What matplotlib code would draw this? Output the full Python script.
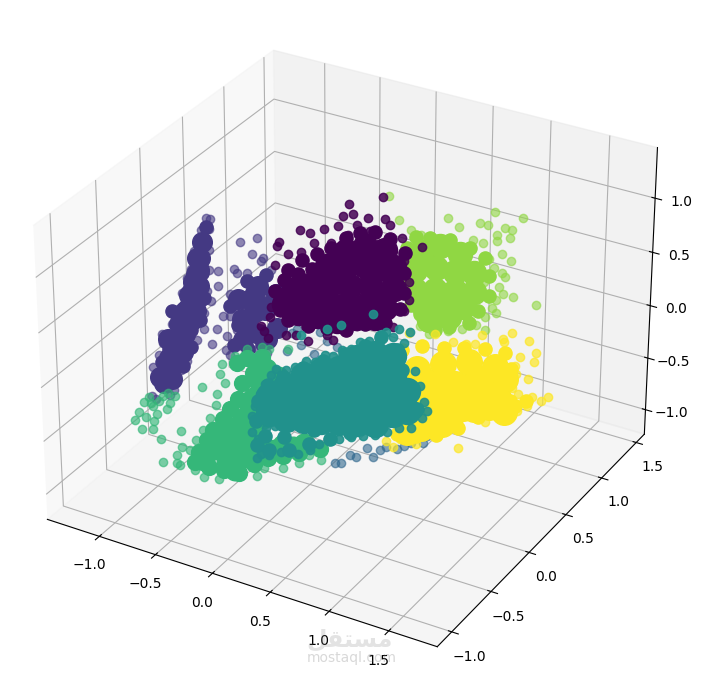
import matplotlib
matplotlib.use("Agg")
import matplotlib.pyplot as plt
import numpy as np

# values, dense middle of each cluster is kept as a few thick points
purple_y = 0.8
purple_core_x = [-0.13, 0.04, 0.22, 0.30, 0.30, -0.30, -0.13, 0.04, 0.22, -0.43, -0.26, -0.09, 0.09, 0.22,
                 -0.60, -0.47, -0.30, -0.13, 0.04, 0.22, -0.69, -0.56, -0.39, -0.21, -0.04, 0.13]
purple_core_z = [0.41, 0.50, 0.52, 0.385, 0.18, 0.22, 0.26, 0.32, 0.34, 0.01, 0.06, 0.09, 0.15, 0.11,
                 -0.09, -0.17, -0.12, -0.09, -0.05, -0.03, -0.26, -0.31, -0.29, -0.28, -0.20, -0.15]
purple_mid_x = [-0.65, -0.52, -0.39, -0.26, -0.13, 0.00, 0.13, 0.26, 0.39, 0.39, 0.39, 0.35, 0.22, 0.04, -0.13, -0.30,
                -0.47, -0.65, -0.73, -0.77, -0.69, -0.56, -0.43, -0.52, -0.39, 0.13, -0.04, -0.21]
purple_mid_z = [0.07, 0.21, 0.30, 0.40, 0.53, 0.61, 0.66, 0.63, 0.54, 0.35, 0.17, 0.00, -0.17, -0.23, -0.34, -0.38,
                -0.41, -0.41, -0.33, -0.16, -0.03, 0.06, 0.15, -0.11, -0.155, 0.40, 0.38, 0.35]
purple_x = [-0.10, 0.20, -0.15, -0.06, -0.54, -0.73, -0.75, -0.45, -0.32, -0.20, -0.03, 0.07, 0.22, 0.26, 0.37,
            0.54, 0.39, 0.37, 0.43, 0.32, 0.43, 0.39, 0.29, 0.23, -0.03, -0.24, -0.30, -0.47, -0.58, -0.67,
            -0.84, -0.88, -0.90, -0.82, -0.81, -0.76, -0.77, -0.65, -0.53, -0.41, -0.26, -0.11, 0.09, 0.16]
purple_z = [0.85, 1.00, 0.73, 0.77, 0.48, 0.32, 0.27, 0.48, 0.56, 0.62, 0.68, 0.77, 0.81, 0.76, 0.67,
            0.64, 0.47, 0.33, 0.28, 0.21, 0.11, 0.00, -0.19, -0.10, -0.27, -0.47, -0.44, -0.55, -0.53, -0.56,
            -0.64, -0.58, -0.54, -0.43, -0.33, -0.18, 0.09, 0.23, 0.28, 0.40, 0.44, 0.56, 0.66, 0.56]

indigo_y = 0.2
indigo_core_x = [-0.99, -1.03, -1.07, -1.11, -1.16, -1.20, -1.26, -1.30, -1.35, -1.00, -1.14, -1.04, -1.24,
                 -1.17, -1.30, -1.39, -1.28, -0.55, -0.47, -0.41, -0.57, -0.47, -0.61, -0.31, -0.31,
                 -0.97, -1.02, -1.00, -1.06, -1.02, -1.10, -1.08, -1.20, -1.14, -1.22, -1.30,
                 -0.50, -0.38, -0.62, -0.65, -0.55, -0.40, -0.50]
indigo_core_z = [0.56, 0.40, 0.23, 0.06, -0.10, -0.28, -0.45, -0.60, -0.74, 0.30, 0.02, 0.05, -0.32,
                 -0.38, -0.48, -0.69, -0.68, 0.30, 0.46, 0.25, 0.11, 0.01, -0.09, 0.43, 0.11,
                 0.72, 0.55, 0.45, 0.32, 0.18, 0.18, -0.05, -0.12, -0.20, -0.50, -0.30,
                 0.20, 0.30, 0.10, 0.28, 0.00, -0.02, 0.38]
indigo_mid_x = [-0.93, -0.97, -1.00, -1.04, -1.10, -0.97, -1.02, -0.96, -1.00, -1.09, -1.26, -1.19, -1.30, -1.09, -1.36, -1.17,
                -0.66, -0.73, -0.66, -0.70, -0.57, -0.44, -0.57, -0.40]
indigo_mid_z = [0.87, 0.71, 0.53, 0.35, 0.19, 0.43, 0.20, 0.20, -0.02, -0.15, -0.02, -0.19, -0.39, -0.31, -0.54, -0.52,
                0.30, 0.19, 0.03, -0.17, -0.17, -0.08, 0.47, 0.58]
indigo_x = [-0.93, -0.89, -0.97, -0.90, -0.91, -1.04, -1.07, -1.11, -1.16, -1.19, -0.91, -0.93, -0.96, -0.97, -1.03,
            -1.13, -1.19, -1.26, -1.30, -1.43, -1.47, -1.43, -1.45, -1.39, -1.35, -1.36, -1.30, -1.26, -1.24,
            -0.63, -0.47, -0.83, -0.68, -0.83, -0.90, -0.72, -0.79, -0.85, -0.90, -0.52, -0.42, -0.66, -0.57,
            -0.73, -0.76, -0.77, -0.73, -0.66, -0.57, -0.48, -0.40, -0.35, -0.44, -0.66, -0.67]
indigo_z = [0.95, 0.955, 0.83, 0.86, 0.66, 0.61, 0.44, 0.34, 0.18, 0.02, 0.47, 0.27, 0.05, -0.10, -0.22,
            -0.46, -0.56, -0.78, -0.84, -0.92, -0.91, -0.75, -0.62, -0.48, -0.35, -0.27, -0.25, -0.14, 0.00,
            0.82, 0.90, 0.49, 0.55, 0.35, 0.19, 0.31, 0.08, -0.06, -0.22, 0.74, 0.73, 0.52, 0.55,
            0.10, -0.10, -0.24, -0.27, -0.29, -0.21, -0.14, -0.15, 0.64, 0.70, 0.17, -0.02]

blue_y = 0.0
blue_x = [-0.16, -0.04, 0.18, 0.59, 0.65, 0.19, -0.12, -0.07, 0.13, 0.27, 0.07, 0.79, 0.39, 0.53, 0.65, 0.79, 0.91,
          1.02, 0.31, 0.25, 0.44, 0.59, 0.70, 0.82, 0.96, 1.05, 0.79, 0.85]
blue_z = [0.07, 0.16, 0.45, 0.54, 0.53, 0.27, 0.25, 0.30, 0.34, 0.24, 0.11, -0.32, -0.74, -0.62, -0.60, -0.55, -0.45,
          -0.41, -0.84, -0.86, -0.74, -0.69, -0.56, -0.42, -0.37, -0.34, -0.40, -0.50]

teal_y = -0.6
teal_core_x = [0.15, 0.15, 0.30, 0.30, 0.30, 0.45, 0.45, 0.45, 0.45, 0.60, 0.60, 0.60, 0.60, 0.75, 0.75, 0.75, 0.75,
               0.90, 0.90, 0.90, 0.90, 0.90, 1.05, 1.05, 1.05, 1.05, 1.05, 1.20, 1.20, 1.20, 1.20, 1.32, 1.32]
teal_core_z = [0.03, 0.18, 0.02, 0.17, 0.32, 0.06, 0.20, 0.34, 0.46, 0.10, 0.25, 0.40, 0.55, 0.14, 0.30, 0.46, 0.62,
               0.18, 0.34, 0.50, 0.66, 0.76, 0.22, 0.38, 0.54, 0.70, 0.85, 0.36, 0.52, 0.70, 0.88, 0.42, 0.60]
teal_mid_x = [0.04, 0.15, 0.32, 0.49, 0.67, 0.84, 1.01, 1.18, 1.33, 1.40, 1.31, 1.27, 1.23, 1.10, 0.97, 0.80, 0.62, 0.45,
              0.28, 0.15, 0.06, 0.04, 0.11, 0.28, 0.54, 0.80]
teal_mid_z = [-0.31, -0.32, -0.26, -0.15, -0.04, 0.07, 0.17, 0.30, 0.44, 0.47, 0.61, 0.77, 0.94, 1.01, 0.89, 0.77, 0.65, 0.53,
              0.40, 0.28, 0.11, -0.08, -0.20, -0.15, 0.00, 0.16]
teal_x = [0.17, 0.22, 0.30, 0.38, 0.47, 0.55, 0.63, 0.70, 0.78, 0.85, 0.93, 1.00, 1.08, 1.14, 1.20, 1.25,
          0.43, 0.65, 0.77, 1.03, 1.25, 1.34, 1.29, 1.38, 1.42, 1.46, 1.48, 1.44, 1.40, 1.35, 1.25, 1.30,
          0.00, 0.05, 0.12, 0.20, 0.04, 0.08, 0.15, 0.25, 0.33, 0.40, 0.50, 0.58, 0.66, 0.75, 0.85, 0.95,
          1.05, 1.15, 0.00, 0.03, 0.08, 0.12]
teal_z = [0.38, 0.45, 0.47, 0.52, 0.60, 0.62, 0.71, 0.72, 0.80, 0.83, 0.92, 0.95, 1.00, 1.07, 1.04, 0.96,
          0.82, 0.945, 1.02, 1.19, 1.13, 1.13, 1.02, 0.80, 0.68, 0.55, 0.47, 0.40, 0.43, 0.28, 0.25, 0.65,
          -0.20, -0.25, -0.12, -0.08, -0.43, -0.38, -0.36, -0.30, -0.25, -0.27, -0.20, -0.12, -0.05, -0.02, 0.03, 0.08,
          0.12, 0.18, -0.05, 0.05, 0.18, 0.28]

green_y = -0.9
green_core_x = [-0.18, -0.05, 0.08, 0.165, 0.226, 0.278, -0.01, 0.12, 0.25, 0.34, 0.38, -0.27, -0.07, 0.12, 0.42, 0.60,
                -0.12, 0.03, 0.15, 0.20, 0.30, 0.32, 0.00, 0.25, 0.35, 0.50, -0.10, 0.05]
green_core_z = [-0.27, -0.09, 0.10, 0.31, 0.47, 0.61, -0.25, -0.12, 0.16, 0.37, 0.57, -0.40, -0.34, -0.24, -0.03, 0.04,
                -0.18, 0.00, 0.02, 0.22, 0.25, 0.45, -0.40, -0.10, -0.10, -0.02, -0.25, -0.18]
green_mid_x = [0.04, 0.12, 0.25, 0.17, 0.08, 0.04, -0.03, -0.09, -0.18, -0.24, -0.31, -0.35, -0.22, -0.09, 0.04, 0.17, 0.29,
               0.42, 0.55, 0.73, 0.21, 0.08, 0.12, 0.21]
green_mid_z = [0.59, 0.66, 0.71, 0.54, 0.42, 0.26, 0.15, 0.04, -0.09, -0.20, -0.34, -0.44, -0.45, -0.43, -0.42, -0.29, -0.19,
               -0.13, -0.06, 0.03, -0.04, -0.04, 0.25, 0.65]
green_x = [0.02, 0.12, 0.25, 0.31, 0.47, -0.09, -0.11, -0.07, -0.14, -0.15, -0.21, -0.27, -0.33, -0.39, -0.46, -0.50,
           -0.48, -0.27, -0.46, -0.63, -0.51, -0.35, -0.27, -0.14, 0.02, 0.19, 0.25, 0.42, 0.55, 0.74, 0.64, 0.47,
           -0.74, -0.70, -0.61, -0.57, -0.78, -0.83, -0.77, -0.87, -0.81, -0.70, -0.67, -0.58, -0.55, -0.51, -0.64,
           -0.71, -0.65, -0.72]
green_z = [0.64, 0.74, 0.80, 0.80, 0.85, 0.54, 0.44, 0.37, 0.25, 0.15, 0.01, -0.12, -0.23, -0.35, -0.34, -0.43,
           -0.52, 0.27, -0.19, -0.54, -0.51, -0.52, -0.56, -0.53, -0.34, -0.39, -0.30, -0.24, -0.15, -0.06, -0.05, -0.09,
           0.03, -0.04, 0.08, 0.12, -0.03, -0.14, -0.16, -0.22, -0.29, -0.18, -0.10, -0.03, 0.04, 0.11, -0.33,
           -0.26, 0.02, -0.02]

lime_y = 1.2
lime_core_x = [0.27, 0.44, 0.61, 0.22, 0.40, 0.57, 0.74, 0.22, 0.40, 0.57, 0.74, 0.31, 0.48, 0.65, 0.35, 0.525]
lime_core_z = [0.30, 0.41, 0.38, 0.11, 0.19, 0.20, 0.24, -0.08, -0.02, 0.02, 0.06, -0.23, -0.17, -0.11, -0.33, -0.24]
lime_mid_x = [0.14, 0.22, 0.35, 0.525, 0.70, 0.83, 0.87, 0.87, 0.78, 0.70, 0.525, 0.40, 0.27, 0.18, 0.14, 0.14]
lime_mid_z = [0.30, 0.43, 0.46, 0.49, 0.46, 0.41, 0.25, 0.06, -0.11, -0.25, -0.34, -0.41, -0.29, -0.23, 0.12, -0.06]
lime_x = [-0.02, 0.07, 0.50, 0.91, 1.15, 0.18, 0.27, 0.42, 0.60, 0.78, 0.85, 1.00, 1.06, 0.93, 0.93, 1.04, 0.81, 0.72,
          0.98, 1.06, 0.91, 0.98, 1.01, 0.96, 0.99, 1.08, 1.28, 0.93, 0.90, 0.94, 0.84, 0.84, 0.76, 0.64, 0.52, 0.35,
          0.83, 0.87, 0.27]
lime_z = [0.74, 0.54, 0.69, 0.86, 0.87, 0.48, 0.46, 0.47, 0.63, 0.72, 0.72, 0.74, 0.74, 0.65, 0.60, 0.66, 0.54, 0.54,
          0.49, 0.45, 0.34, 0.31, 0.28, 0.17, 0.12, 0.12, 0.10, 0.04, -0.04, -0.08, -0.15, -0.27, -0.25, -0.32, -0.38, -0.46,
          0.18, 0.41, -0.41]

yellow_y = 0.0
yellow_core_x = [1.02, 1.24, 1.45, 1.67, 1.02, 1.24, 1.45, 1.63, 0.98, 1.19, 1.41, 1.63, 0.94, 1.06, 1.24,
                 1.13, 1.34, 1.55, 1.13, 1.32, 1.52, 1.08, 1.30, 1.50, 1.75, 1.75]
yellow_core_z = [0.31, 0.43, 0.51, 0.54, 0.13, 0.20, 0.28, 0.28, -0.12, -0.02, 0.08, 0.16, -0.30, -0.22, -0.12,
                 0.22, 0.28, 0.38, 0.05, 0.12, 0.20, -0.10, -0.05, 0.10, 0.45, 0.15]
yellow_mid_x = [0.89, 1.06, 1.24, 1.41, 1.58, 1.75, 1.80, 1.71, 1.80, 1.93, 1.84, 1.71, 1.54, 1.37, 1.19, 1.02, 0.85, 0.89,
                0.81, 1.75, 1.58]
yellow_mid_z = [0.45, 0.54, 0.57, 0.63, 0.67, 0.69, 0.56, 0.37, 0.27, 0.31, 0.24, 0.14, 0.04, -0.12, -0.24, -0.31, -0.35, 0.22,
                -0.13, 0.30, 0.42]
yellow_x = [1.17, 0.95, 1.32, 1.43, 1.50, 1.56, 1.73, 1.80, 1.74, 1.94, 1.87, 2.00, 1.99, 1.83, 1.84, 1.94, 1.81,
            1.98, 2.05, 2.11, 1.94, 1.86, 1.74, 1.60, 1.37, 1.17, 1.02, 0.88, 0.76, 0.82, 1.60, 1.69, 1.86]
yellow_z = [0.68, 0.62, 0.65, 0.67, 0.69, 0.79, 0.81, 0.88, 0.78, 0.85, 0.69, 0.77, 0.68, 0.60, 0.53, 0.51, 0.39,
            0.36, 0.35, 0.40, 0.27, 0.20, 0.13, 0.01, -0.31, -0.26, -0.38, -0.38, -0.44, -0.48, 0.38, 0.41, 0.35]

x_ticks = [-1.0, -0.5, 0.0, 0.5, 1.0, 1.5]
y_ticks = [-1.0, -0.5, 0.0, 0.5, 1.0, 1.5]
z_ticks = [-1.0, -0.5, 0.0, 0.5, 1.0]

# corrections to the readings above, found by comparing with the picture
indigo_dx, indigo_dz = -0.12, -0.13
blue_dx, blue_dz = -0.03, -0.10
lime_dx, lime_dz = -0.11, -0.05
purple_dx, purple_dz = -0.11, -0.02
yellow_dx, yellow_dz = -0.09, -0.16
green_dx, green_dz = 0.0, -0.07
teal_dx, teal_dz = -0.07, -0.15

cmap = plt.get_cmap("viridis")
order = 0


def draw(x, y, z, dx, dz, label, size, alpha):
    global order
    order += 1
    ax.scatter(np.add(x, dx), np.full(len(x), y), np.add(z, dz), s=size, color=cmap(label / 6), alpha=alpha,
               depthshade=False, zorder=order)


fig = plt.figure(figsize=(7.03, 6.79), dpi=100)
ax = fig.add_axes([-5 / 703, -11.5 / 679, 694 / 703, 694 / 679], projection="3d")
ax.computed_zorder = False

# back to front
draw(indigo_x, indigo_y, indigo_z, indigo_dx, indigo_dz, 1, 36, 0.6)
draw(indigo_mid_x, indigo_y, indigo_mid_z, indigo_dx, indigo_dz, 1, 90, 1)
draw(indigo_core_x, indigo_y, indigo_core_z, indigo_dx, indigo_dz, 1, 200, 1)
draw(blue_x, blue_y, blue_z, blue_dx, blue_dz, 2, 36, 0.6)
draw(lime_x, lime_y, lime_z, lime_dx, lime_dz, 5, 36, 0.6)
draw(lime_mid_x, lime_y, lime_mid_z, lime_dx, lime_dz, 5, 90, 1)
draw(lime_core_x, lime_y, lime_core_z, lime_dx, lime_dz, 5, 300, 1)
draw(purple_x, purple_y, purple_z, purple_dx, purple_dz, 0, 36, 0.85)
draw(purple_mid_x, purple_y, purple_mid_z, purple_dx, purple_dz, 0, 90, 1)
draw(purple_core_x, purple_y, purple_core_z, purple_dx, purple_dz, 0, 300, 1)
draw(yellow_x, yellow_y, yellow_z, yellow_dx, yellow_dz, 6, 36, 0.7)
draw(yellow_mid_x, yellow_y, yellow_mid_z, yellow_dx, yellow_dz, 6, 90, 1)
draw(yellow_core_x, yellow_y, yellow_core_z, yellow_dx, yellow_dz, 6, 340, 1)
draw(green_x, green_y, green_z, green_dx, green_dz, 4, 36, 0.65)
draw(green_mid_x, green_y, green_mid_z, green_dx, green_dz, 4, 130, 1)
draw(green_core_x, green_y, green_core_z, green_dx, green_dz, 4, 220, 1)
draw(teal_x, teal_y, teal_z, teal_dx, teal_dz, 3, 36, 0.9)
draw(teal_mid_x, teal_y, teal_mid_z, teal_dx, teal_dz, 3, 90, 1)
draw(teal_core_x, teal_y, teal_core_z, teal_dx, teal_dz, 3, 350, 1)

ax.set_xlim(-1.47, 1.9)
ax.set_ylim(-1.18, 1.62)
ax.set_zlim(-1.24, 1.46)
ax.set_xticks(x_ticks)
ax.set_yticks(y_ticks)
ax.set_zticks(z_ticks)

# site watermark
fig.text(0.497, 0.058, "\ufede\ufed8\ufe98\ufeb4\ufee3", ha="center", va="center", fontsize=17, fontweight="bold",
         color="#808080", alpha=0.22)
fig.text(0.5, 0.031, "mostaql.com", ha="center", va="center", fontsize=10, color="#808080", alpha=0.3)

fig.savefig("out.png", dpi=100)
